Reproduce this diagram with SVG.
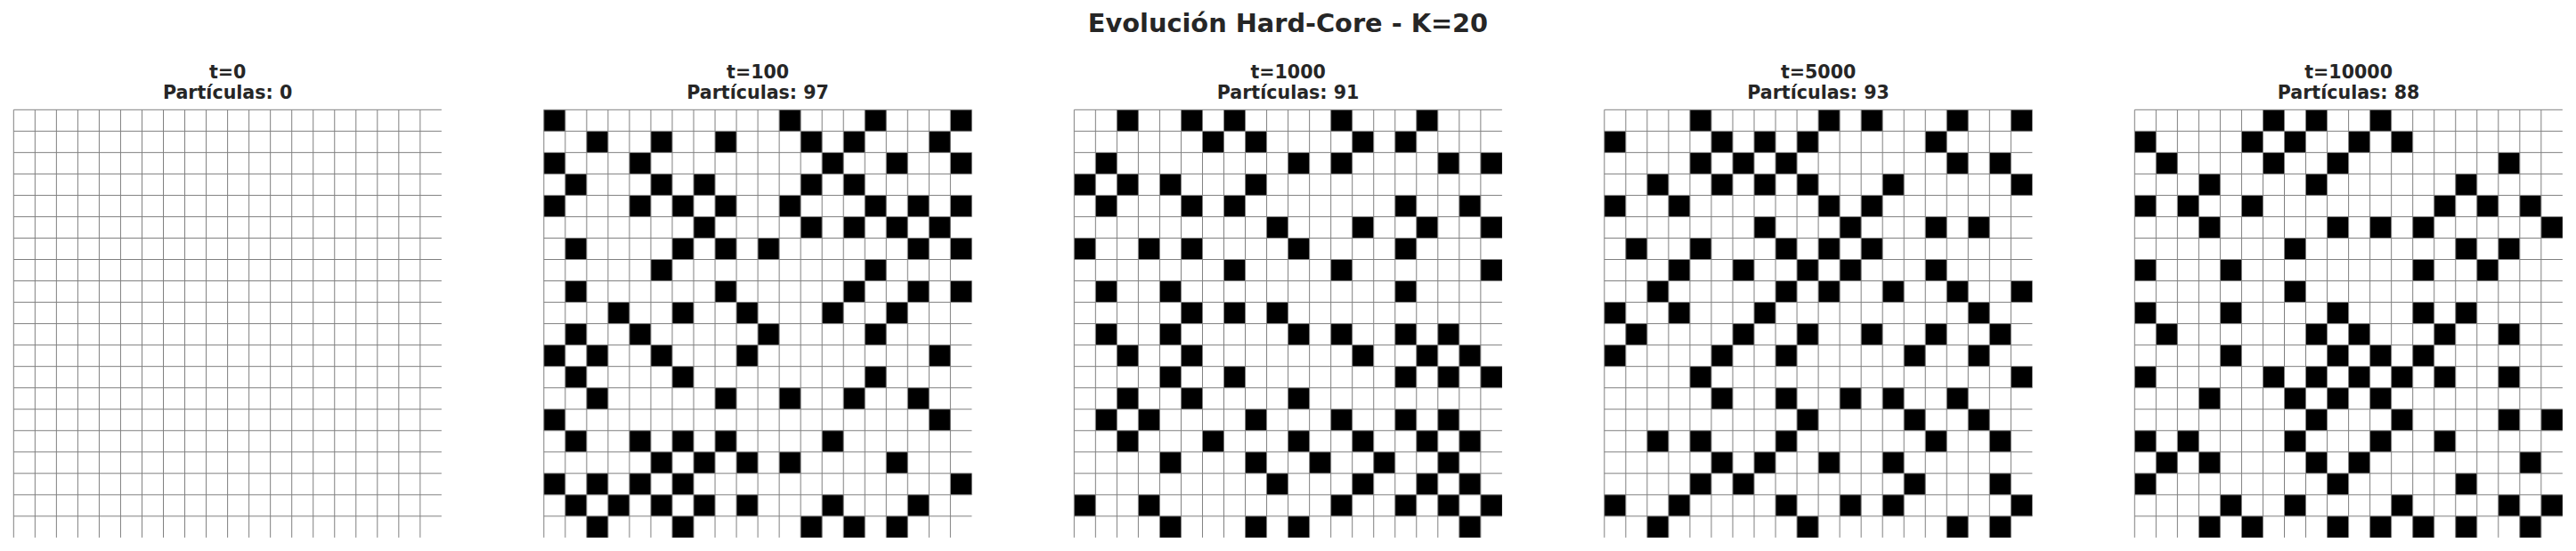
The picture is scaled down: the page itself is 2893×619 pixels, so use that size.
<svg xmlns="http://www.w3.org/2000/svg" xmlns:xlink="http://www.w3.org/1999/xlink" width="2893" height="619" viewBox="0 0 2893 619">
<style>
text{font-family:"DejaVu Sans","Liberation Sans",sans-serif;font-weight:bold;fill:#262626;text-anchor:middle}
.sup{font-size:28.8px}
.ttl{font-size:20.6px}
.cells rect{fill:#000}
.gl{fill:none;stroke:#808080;stroke-width:1;vector-effect:non-scaling-stroke}
</style>
<defs>
<path id="grid" class="gl" d="M0 0H20M0 1H20M0 2H20M0 3H20M0 4H20M0 5H20M0 6H20M0 7H20M0 8H20M0 9H20M0 10H20M0 11H20M0 12H20M0 13H20M0 14H20M0 15H20M0 16H20M0 17H20M0 18H20M0 19H20M0 0V20M1 0V20M2 0V20M3 0V20M4 0V20M5 0V20M6 0V20M7 0V20M8 0V20M9 0V20M10 0V20M11 0V20M12 0V20M13 0V20M14 0V20M15 0V20M16 0V20M17 0V20M18 0V20M19 0V20"/>
</defs>
<rect width="2893" height="619" fill="#fff"/>
<text id="suptitle" class="sup" x="1446.5" y="35.5">Evolución Hard-Core - K=20</text>

<g id="panel-t0">
<text class="ttl" x="255.6" y="88">t=0</text>
<text class="ttl" x="255.6" y="111">Partículas: 0</text>
<g transform="translate(15.3,123.3) scale(24.03)">
<rect width="20" height="20" fill="#fff"/>
<use xlink:href="#grid" href="#grid"/>
</g>
</g>

<g id="panel-t100">
<text class="ttl" x="851.1" y="88">t=100</text>
<text class="ttl" x="851.1" y="111">Partículas: 97</text>
<g transform="translate(610.8,123.3) scale(24.03)">
<rect width="20" height="20" fill="#fff"/>
<g class="cells">
<rect x="0" y="0" width="1" height="1"/><rect x="11" y="0" width="1" height="1"/><rect x="15" y="0" width="1" height="1"/><rect x="19" y="0" width="1" height="1"/>
<rect x="2" y="1" width="1" height="1"/><rect x="5" y="1" width="1" height="1"/><rect x="8" y="1" width="1" height="1"/><rect x="12" y="1" width="1" height="1"/><rect x="14" y="1" width="1" height="1"/><rect x="18" y="1" width="1" height="1"/>
<rect x="0" y="2" width="1" height="1"/><rect x="4" y="2" width="1" height="1"/><rect x="13" y="2" width="1" height="1"/><rect x="16" y="2" width="1" height="1"/><rect x="19" y="2" width="1" height="1"/>
<rect x="1" y="3" width="1" height="1"/><rect x="5" y="3" width="1" height="1"/><rect x="7" y="3" width="1" height="1"/><rect x="12" y="3" width="1" height="1"/><rect x="14" y="3" width="1" height="1"/>
<rect x="0" y="4" width="1" height="1"/><rect x="4" y="4" width="1" height="1"/><rect x="6" y="4" width="1" height="1"/><rect x="8" y="4" width="1" height="1"/><rect x="11" y="4" width="1" height="1"/><rect x="15" y="4" width="1" height="1"/><rect x="17" y="4" width="1" height="1"/><rect x="19" y="4" width="1" height="1"/>
<rect x="7" y="5" width="1" height="1"/><rect x="12" y="5" width="1" height="1"/><rect x="14" y="5" width="1" height="1"/><rect x="16" y="5" width="1" height="1"/><rect x="18" y="5" width="1" height="1"/>
<rect x="1" y="6" width="1" height="1"/><rect x="6" y="6" width="1" height="1"/><rect x="8" y="6" width="1" height="1"/><rect x="10" y="6" width="1" height="1"/><rect x="17" y="6" width="1" height="1"/><rect x="19" y="6" width="1" height="1"/>
<rect x="5" y="7" width="1" height="1"/><rect x="15" y="7" width="1" height="1"/>
<rect x="1" y="8" width="1" height="1"/><rect x="8" y="8" width="1" height="1"/><rect x="14" y="8" width="1" height="1"/><rect x="17" y="8" width="1" height="1"/><rect x="19" y="8" width="1" height="1"/>
<rect x="3" y="9" width="1" height="1"/><rect x="6" y="9" width="1" height="1"/><rect x="9" y="9" width="1" height="1"/><rect x="13" y="9" width="1" height="1"/><rect x="16" y="9" width="1" height="1"/>
<rect x="1" y="10" width="1" height="1"/><rect x="4" y="10" width="1" height="1"/><rect x="10" y="10" width="1" height="1"/><rect x="15" y="10" width="1" height="1"/>
<rect x="0" y="11" width="1" height="1"/><rect x="2" y="11" width="1" height="1"/><rect x="5" y="11" width="1" height="1"/><rect x="9" y="11" width="1" height="1"/><rect x="18" y="11" width="1" height="1"/>
<rect x="1" y="12" width="1" height="1"/><rect x="6" y="12" width="1" height="1"/><rect x="15" y="12" width="1" height="1"/>
<rect x="2" y="13" width="1" height="1"/><rect x="8" y="13" width="1" height="1"/><rect x="11" y="13" width="1" height="1"/><rect x="14" y="13" width="1" height="1"/><rect x="17" y="13" width="1" height="1"/>
<rect x="0" y="14" width="1" height="1"/><rect x="18" y="14" width="1" height="1"/>
<rect x="1" y="15" width="1" height="1"/><rect x="4" y="15" width="1" height="1"/><rect x="6" y="15" width="1" height="1"/><rect x="8" y="15" width="1" height="1"/><rect x="13" y="15" width="1" height="1"/>
<rect x="5" y="16" width="1" height="1"/><rect x="7" y="16" width="1" height="1"/><rect x="9" y="16" width="1" height="1"/><rect x="11" y="16" width="1" height="1"/><rect x="16" y="16" width="1" height="1"/>
<rect x="0" y="17" width="1" height="1"/><rect x="2" y="17" width="1" height="1"/><rect x="4" y="17" width="1" height="1"/><rect x="6" y="17" width="1" height="1"/><rect x="19" y="17" width="1" height="1"/>
<rect x="1" y="18" width="1" height="1"/><rect x="3" y="18" width="1" height="1"/><rect x="5" y="18" width="1" height="1"/><rect x="7" y="18" width="1" height="1"/><rect x="9" y="18" width="1" height="1"/><rect x="13" y="18" width="1" height="1"/><rect x="17" y="18" width="1" height="1"/>
<rect x="2" y="19" width="1" height="1"/><rect x="6" y="19" width="1" height="1"/><rect x="12" y="19" width="1" height="1"/><rect x="14" y="19" width="1" height="1"/><rect x="16" y="19" width="1" height="1"/>
</g>
<use xlink:href="#grid" href="#grid"/>
</g>
</g>

<g id="panel-t1000">
<text class="ttl" x="1446.6" y="88">t=1000</text>
<text class="ttl" x="1446.6" y="111">Partículas: 91</text>
<g transform="translate(1206.3,123.3) scale(24.03)">
<rect width="20" height="20" fill="#fff"/>
<g class="cells">
<rect x="2" y="0" width="1" height="1"/><rect x="5" y="0" width="1" height="1"/><rect x="7" y="0" width="1" height="1"/><rect x="12" y="0" width="1" height="1"/><rect x="16" y="0" width="1" height="1"/>
<rect x="6" y="1" width="1" height="1"/><rect x="8" y="1" width="1" height="1"/><rect x="13" y="1" width="1" height="1"/><rect x="15" y="1" width="1" height="1"/>
<rect x="1" y="2" width="1" height="1"/><rect x="10" y="2" width="1" height="1"/><rect x="12" y="2" width="1" height="1"/><rect x="17" y="2" width="1" height="1"/><rect x="19" y="2" width="1" height="1"/>
<rect x="0" y="3" width="1" height="1"/><rect x="2" y="3" width="1" height="1"/><rect x="4" y="3" width="1" height="1"/><rect x="8" y="3" width="1" height="1"/>
<rect x="1" y="4" width="1" height="1"/><rect x="5" y="4" width="1" height="1"/><rect x="7" y="4" width="1" height="1"/><rect x="15" y="4" width="1" height="1"/><rect x="18" y="4" width="1" height="1"/>
<rect x="9" y="5" width="1" height="1"/><rect x="13" y="5" width="1" height="1"/><rect x="16" y="5" width="1" height="1"/><rect x="19" y="5" width="1" height="1"/>
<rect x="0" y="6" width="1" height="1"/><rect x="3" y="6" width="1" height="1"/><rect x="5" y="6" width="1" height="1"/><rect x="10" y="6" width="1" height="1"/><rect x="15" y="6" width="1" height="1"/>
<rect x="7" y="7" width="1" height="1"/><rect x="12" y="7" width="1" height="1"/><rect x="19" y="7" width="1" height="1"/>
<rect x="1" y="8" width="1" height="1"/><rect x="4" y="8" width="1" height="1"/><rect x="15" y="8" width="1" height="1"/>
<rect x="5" y="9" width="1" height="1"/><rect x="7" y="9" width="1" height="1"/><rect x="9" y="9" width="1" height="1"/>
<rect x="1" y="10" width="1" height="1"/><rect x="4" y="10" width="1" height="1"/><rect x="10" y="10" width="1" height="1"/><rect x="12" y="10" width="1" height="1"/><rect x="15" y="10" width="1" height="1"/><rect x="17" y="10" width="1" height="1"/>
<rect x="2" y="11" width="1" height="1"/><rect x="5" y="11" width="1" height="1"/><rect x="13" y="11" width="1" height="1"/><rect x="16" y="11" width="1" height="1"/><rect x="18" y="11" width="1" height="1"/>
<rect x="4" y="12" width="1" height="1"/><rect x="7" y="12" width="1" height="1"/><rect x="15" y="12" width="1" height="1"/><rect x="17" y="12" width="1" height="1"/><rect x="19" y="12" width="1" height="1"/>
<rect x="2" y="13" width="1" height="1"/><rect x="5" y="13" width="1" height="1"/><rect x="10" y="13" width="1" height="1"/>
<rect x="1" y="14" width="1" height="1"/><rect x="3" y="14" width="1" height="1"/><rect x="8" y="14" width="1" height="1"/><rect x="12" y="14" width="1" height="1"/><rect x="15" y="14" width="1" height="1"/><rect x="17" y="14" width="1" height="1"/>
<rect x="2" y="15" width="1" height="1"/><rect x="6" y="15" width="1" height="1"/><rect x="10" y="15" width="1" height="1"/><rect x="13" y="15" width="1" height="1"/><rect x="16" y="15" width="1" height="1"/><rect x="18" y="15" width="1" height="1"/>
<rect x="4" y="16" width="1" height="1"/><rect x="8" y="16" width="1" height="1"/><rect x="11" y="16" width="1" height="1"/><rect x="14" y="16" width="1" height="1"/><rect x="17" y="16" width="1" height="1"/>
<rect x="9" y="17" width="1" height="1"/><rect x="13" y="17" width="1" height="1"/><rect x="16" y="17" width="1" height="1"/><rect x="18" y="17" width="1" height="1"/>
<rect x="0" y="18" width="1" height="1"/><rect x="3" y="18" width="1" height="1"/><rect x="12" y="18" width="1" height="1"/><rect x="15" y="18" width="1" height="1"/><rect x="17" y="18" width="1" height="1"/><rect x="19" y="18" width="1" height="1"/>
<rect x="4" y="19" width="1" height="1"/><rect x="8" y="19" width="1" height="1"/><rect x="10" y="19" width="1" height="1"/><rect x="18" y="19" width="1" height="1"/>
</g>
<use xlink:href="#grid" href="#grid"/>
</g>
</g>

<g id="panel-t5000">
<text class="ttl" x="2042.1" y="88">t=5000</text>
<text class="ttl" x="2042.1" y="111">Partículas: 93</text>
<g transform="translate(1801.8,123.3) scale(24.03)">
<rect width="20" height="20" fill="#fff"/>
<g class="cells">
<rect x="4" y="0" width="1" height="1"/><rect x="10" y="0" width="1" height="1"/><rect x="12" y="0" width="1" height="1"/><rect x="16" y="0" width="1" height="1"/><rect x="19" y="0" width="1" height="1"/>
<rect x="0" y="1" width="1" height="1"/><rect x="5" y="1" width="1" height="1"/><rect x="7" y="1" width="1" height="1"/><rect x="9" y="1" width="1" height="1"/><rect x="15" y="1" width="1" height="1"/>
<rect x="4" y="2" width="1" height="1"/><rect x="6" y="2" width="1" height="1"/><rect x="8" y="2" width="1" height="1"/><rect x="16" y="2" width="1" height="1"/><rect x="18" y="2" width="1" height="1"/>
<rect x="2" y="3" width="1" height="1"/><rect x="5" y="3" width="1" height="1"/><rect x="7" y="3" width="1" height="1"/><rect x="9" y="3" width="1" height="1"/><rect x="13" y="3" width="1" height="1"/><rect x="19" y="3" width="1" height="1"/>
<rect x="0" y="4" width="1" height="1"/><rect x="3" y="4" width="1" height="1"/><rect x="10" y="4" width="1" height="1"/><rect x="12" y="4" width="1" height="1"/>
<rect x="7" y="5" width="1" height="1"/><rect x="11" y="5" width="1" height="1"/><rect x="15" y="5" width="1" height="1"/><rect x="17" y="5" width="1" height="1"/>
<rect x="1" y="6" width="1" height="1"/><rect x="4" y="6" width="1" height="1"/><rect x="8" y="6" width="1" height="1"/><rect x="10" y="6" width="1" height="1"/><rect x="12" y="6" width="1" height="1"/>
<rect x="3" y="7" width="1" height="1"/><rect x="6" y="7" width="1" height="1"/><rect x="9" y="7" width="1" height="1"/><rect x="11" y="7" width="1" height="1"/><rect x="15" y="7" width="1" height="1"/>
<rect x="2" y="8" width="1" height="1"/><rect x="8" y="8" width="1" height="1"/><rect x="10" y="8" width="1" height="1"/><rect x="13" y="8" width="1" height="1"/><rect x="16" y="8" width="1" height="1"/><rect x="19" y="8" width="1" height="1"/>
<rect x="0" y="9" width="1" height="1"/><rect x="3" y="9" width="1" height="1"/><rect x="7" y="9" width="1" height="1"/><rect x="17" y="9" width="1" height="1"/>
<rect x="1" y="10" width="1" height="1"/><rect x="6" y="10" width="1" height="1"/><rect x="9" y="10" width="1" height="1"/><rect x="12" y="10" width="1" height="1"/><rect x="15" y="10" width="1" height="1"/><rect x="18" y="10" width="1" height="1"/>
<rect x="0" y="11" width="1" height="1"/><rect x="5" y="11" width="1" height="1"/><rect x="8" y="11" width="1" height="1"/><rect x="14" y="11" width="1" height="1"/><rect x="17" y="11" width="1" height="1"/>
<rect x="4" y="12" width="1" height="1"/><rect x="19" y="12" width="1" height="1"/>
<rect x="5" y="13" width="1" height="1"/><rect x="8" y="13" width="1" height="1"/><rect x="11" y="13" width="1" height="1"/><rect x="13" y="13" width="1" height="1"/><rect x="16" y="13" width="1" height="1"/>
<rect x="9" y="14" width="1" height="1"/><rect x="14" y="14" width="1" height="1"/><rect x="17" y="14" width="1" height="1"/>
<rect x="2" y="15" width="1" height="1"/><rect x="4" y="15" width="1" height="1"/><rect x="8" y="15" width="1" height="1"/><rect x="15" y="15" width="1" height="1"/><rect x="18" y="15" width="1" height="1"/>
<rect x="5" y="16" width="1" height="1"/><rect x="7" y="16" width="1" height="1"/><rect x="10" y="16" width="1" height="1"/><rect x="13" y="16" width="1" height="1"/>
<rect x="4" y="17" width="1" height="1"/><rect x="6" y="17" width="1" height="1"/><rect x="14" y="17" width="1" height="1"/><rect x="18" y="17" width="1" height="1"/>
<rect x="0" y="18" width="1" height="1"/><rect x="3" y="18" width="1" height="1"/><rect x="8" y="18" width="1" height="1"/><rect x="11" y="18" width="1" height="1"/><rect x="13" y="18" width="1" height="1"/><rect x="19" y="18" width="1" height="1"/>
<rect x="2" y="19" width="1" height="1"/><rect x="9" y="19" width="1" height="1"/><rect x="16" y="19" width="1" height="1"/><rect x="18" y="19" width="1" height="1"/>
</g>
<use xlink:href="#grid" href="#grid"/>
</g>
</g>

<g id="panel-t10000">
<text class="ttl" x="2637.6" y="88">t=10000</text>
<text class="ttl" x="2637.6" y="111">Partículas: 88</text>
<g transform="translate(2397.3,123.3) scale(24.03)">
<rect width="20" height="20" fill="#fff"/>
<g class="cells">
<rect x="6" y="0" width="1" height="1"/><rect x="8" y="0" width="1" height="1"/><rect x="11" y="0" width="1" height="1"/>
<rect x="0" y="1" width="1" height="1"/><rect x="5" y="1" width="1" height="1"/><rect x="7" y="1" width="1" height="1"/><rect x="10" y="1" width="1" height="1"/><rect x="12" y="1" width="1" height="1"/>
<rect x="1" y="2" width="1" height="1"/><rect x="6" y="2" width="1" height="1"/><rect x="9" y="2" width="1" height="1"/><rect x="17" y="2" width="1" height="1"/>
<rect x="3" y="3" width="1" height="1"/><rect x="8" y="3" width="1" height="1"/><rect x="15" y="3" width="1" height="1"/>
<rect x="0" y="4" width="1" height="1"/><rect x="2" y="4" width="1" height="1"/><rect x="5" y="4" width="1" height="1"/><rect x="14" y="4" width="1" height="1"/><rect x="16" y="4" width="1" height="1"/><rect x="18" y="4" width="1" height="1"/>
<rect x="3" y="5" width="1" height="1"/><rect x="9" y="5" width="1" height="1"/><rect x="11" y="5" width="1" height="1"/><rect x="13" y="5" width="1" height="1"/><rect x="19" y="5" width="1" height="1"/>
<rect x="7" y="6" width="1" height="1"/><rect x="15" y="6" width="1" height="1"/><rect x="17" y="6" width="1" height="1"/>
<rect x="0" y="7" width="1" height="1"/><rect x="4" y="7" width="1" height="1"/><rect x="13" y="7" width="1" height="1"/><rect x="16" y="7" width="1" height="1"/>
<rect x="7" y="8" width="1" height="1"/>
<rect x="0" y="9" width="1" height="1"/><rect x="4" y="9" width="1" height="1"/><rect x="9" y="9" width="1" height="1"/><rect x="13" y="9" width="1" height="1"/><rect x="15" y="9" width="1" height="1"/>
<rect x="1" y="10" width="1" height="1"/><rect x="8" y="10" width="1" height="1"/><rect x="10" y="10" width="1" height="1"/><rect x="14" y="10" width="1" height="1"/><rect x="17" y="10" width="1" height="1"/>
<rect x="4" y="11" width="1" height="1"/><rect x="9" y="11" width="1" height="1"/><rect x="11" y="11" width="1" height="1"/><rect x="13" y="11" width="1" height="1"/>
<rect x="0" y="12" width="1" height="1"/><rect x="6" y="12" width="1" height="1"/><rect x="8" y="12" width="1" height="1"/><rect x="10" y="12" width="1" height="1"/><rect x="12" y="12" width="1" height="1"/><rect x="14" y="12" width="1" height="1"/><rect x="17" y="12" width="1" height="1"/>
<rect x="3" y="13" width="1" height="1"/><rect x="7" y="13" width="1" height="1"/><rect x="9" y="13" width="1" height="1"/><rect x="11" y="13" width="1" height="1"/>
<rect x="8" y="14" width="1" height="1"/><rect x="12" y="14" width="1" height="1"/><rect x="17" y="14" width="1" height="1"/><rect x="19" y="14" width="1" height="1"/>
<rect x="0" y="15" width="1" height="1"/><rect x="2" y="15" width="1" height="1"/><rect x="7" y="15" width="1" height="1"/><rect x="11" y="15" width="1" height="1"/><rect x="14" y="15" width="1" height="1"/>
<rect x="1" y="16" width="1" height="1"/><rect x="3" y="16" width="1" height="1"/><rect x="8" y="16" width="1" height="1"/><rect x="10" y="16" width="1" height="1"/><rect x="18" y="16" width="1" height="1"/>
<rect x="0" y="17" width="1" height="1"/><rect x="9" y="17" width="1" height="1"/><rect x="15" y="17" width="1" height="1"/>
<rect x="4" y="18" width="1" height="1"/><rect x="7" y="18" width="1" height="1"/><rect x="12" y="18" width="1" height="1"/><rect x="17" y="18" width="1" height="1"/><rect x="19" y="18" width="1" height="1"/>
<rect x="3" y="19" width="1" height="1"/><rect x="5" y="19" width="1" height="1"/><rect x="9" y="19" width="1" height="1"/><rect x="11" y="19" width="1" height="1"/><rect x="13" y="19" width="1" height="1"/><rect x="15" y="19" width="1" height="1"/><rect x="18" y="19" width="1" height="1"/>
</g>
<use xlink:href="#grid" href="#grid"/>
</g>
</g>
</svg>
